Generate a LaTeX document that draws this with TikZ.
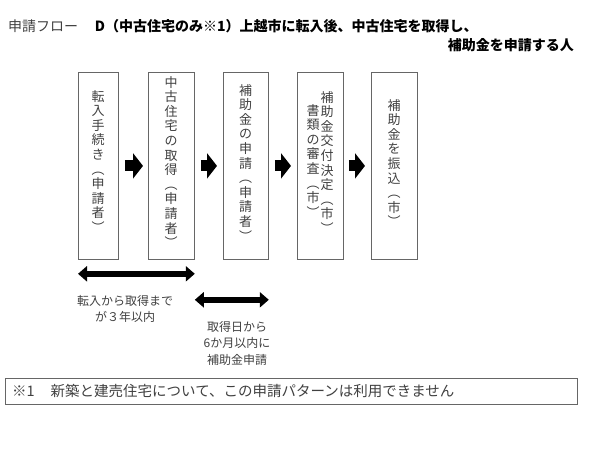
\documentclass[tikz,border=0pt]{standalone}
\usepackage{fontspec}
\setmainfont{Noto Sans CJK JP}
\usetikzlibrary{arrows.meta,calc}
\definecolor{txt}{HTML}{404040}
\tikzset{
 box/.style={draw=gray!80!black,line width=0.8pt,minimum width=#1,minimum height=187pt,anchor=north west,inner sep=0pt},
 vt/.style={anchor=north,align=center,font=\fontsize{13}{14.6}\selectfont,text=txt,inner sep=0pt},
 blk/.style={line width=11pt,-{Triangle[width=25pt,length=10pt]}},
 dbl/.style={line width=5.5pt,{Triangle[width=15pt,length=9pt]}-{Triangle[width=15pt,length=9pt]}},
 lbl/.style={align=center,font=\fontsize{12}{16.5}\selectfont,text=txt,inner sep=0pt}
}
\begin{document}
\begin{tikzpicture}[x=1pt,y=-1pt]
\useasboundingbox (0,0) rectangle (600,450);
\node[anchor=base west,inner sep=0pt,font=\fontsize{14}{16}\selectfont] (t1) at (8,31) {\textcolor{txt}{申請フロー}\hspace{1.2em}\textbf{D（中古住宅のみ※1）上越市に転入後、中古住宅を取得し、}};
\node[anchor=base east,inner sep=0pt,font=\fontsize{14}{16}\selectfont\bfseries] (t2) at (574,50) {補助金を申請する人};
\node[box=40pt] (b1) at (78,72) {};
\node[box=46pt] (b2) at (148,72) {};
\node[box=45pt] (b3) at (223,72) {};
\node[box=46pt] (b4) at (297,72) {};
\node[box=46pt] (b5) at (371,72) {};
\node[vt] (c1) at (98,90) {転\\入\\手\\続\\き\\︵\\申\\請\\者\\︶};
\node[vt] (c2) at (171,76) {中\\古\\住\\宅\\の\\取\\得\\︵\\申\\請\\者\\︶};
\node[vt] (c3) at (245.5,84) {補\\助\\金\\の\\申\\請\\︵\\申\\請\\者\\︶};
\node[vt] (c4a) at (327,91) {補\\助\\金\\交\\付\\決\\定\\︵\\市\\︶};
\node[vt] (c4b) at (313,104) {書\\類\\の\\審\\査\\︵\\市\\︶};
\node[vt] (c5) at (394,99) {補\\助\\金\\を\\振\\込\\︵\\市\\︶};
\draw[blk] ($(b1.east)+(6,0)$) -- ($(b2.west)+(-5,0)$);
\draw[blk] ($(b2.east)+(6,0)$) -- ($(b3.west)+(-6,0)$);
\draw[blk] ($(b3.east)+(6,0)$) -- ($(b4.west)+(-6,0)$);
\draw[blk] ($(b4.east)+(5,0)$) -- ($(b5.west)+(-6,0)$);
\draw[dbl] ($(b1.south west)+(0,14)$) -- ($(b2.south east)+(0,14)$);
\draw[dbl] ($(b2.south east)+(0,40)$) -- ($(b3.south east)+(0,40)$);
\node[lbl] (l1) at (125,309) {転入から取得まで\\が３年以内};
\node[lbl] (l2) at (237,343) {取得日から\\6か月以内に\\補助金申請};
\node[draw=gray!80!black,line width=0.8pt,anchor=north west,minimum width=572pt,minimum height=26pt,inner sep=0pt] (fn) at (5,378) {};
\node[anchor=west,inner sep=0pt,font=\fontsize{14.5}{16}\selectfont,text=txt] (fnt) at (12,391) {※1\hspace{1.1em}新築と建売住宅について、この申請パターンは利用できません};
\end{tikzpicture}
\end{document}
